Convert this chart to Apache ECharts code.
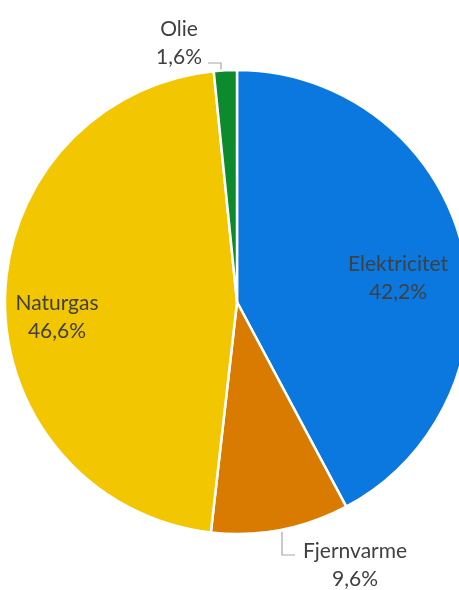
<!DOCTYPE html>
<html>
<head>
<meta charset="utf-8">
<script src="https://cdn.jsdelivr.net/npm/echarts@6/dist/echarts.min.js"></script>
<style>
html,body{margin:0;padding:0;background:#fff;}
#chart{width:459px;height:590px;}
</style>
</head>
<body>
<div id="chart"></div>
<script>
const categories = ['Elektricitet', 'Fjernvarme', 'Naturgas', 'Olie'];
const values = [42.2, 9.6, 46.6, 1.6];
const colors = ['#0B78E0', '#D97B00', '#F2C600', '#0E8A2E'];
const labelSide = ['inside', 'outside', 'inside', 'outside'];

const labelPos = {
  'Elektricitet': { x: 398, y: 278 },
  'Naturgas': { x: 57, y: 317 },
  'Olie': { x: 179, y: 43, line: [[221, 70], [221, 63], [208, 63]] },
  'Fjernvarme': { x: 355, y: 565, line: [[282, 532], [282, 555], [295, 555]] }
};

const chart = echarts.init(document.getElementById('chart'), null, { renderer: 'canvas' });

const data = categories.map((name, i) => ({
  name: name,
  value: values[i],
  itemStyle: { color: colors[i] },
  label: { position: labelSide[i] },
  labelLine: { show: labelSide[i] === 'outside' }
}));

chart.setOption({
  animation: false,
  backgroundColor: '#ffffff',
  series: [{
    type: 'pie',
    center: [237, 302],
    radius: 232,
    startAngle: 90,
    clockwise: true,
    avoidLabelOverlap: false,
    itemStyle: { borderColor: '#ffffff', borderWidth: 2.5 },
    label: {
      show: true,
      fontFamily: 'Lato',
      fontSize: 21,
      lineHeight: 28,
      color: '#404040',
      align: 'center',
      formatter: p => p.name + '\n' + String(p.value).replace('.', ',') + '%'
    },
    labelLine: {
      lineStyle: { color: '#A6A6A6', width: 1.2 },
      length: 10,
      length2: 10
    },
    labelLayout: function (params) {
      const name = categories[params.dataIndex];
      const p = labelPos[name];
      const o = { x: p.x, y: p.y, align: 'center', verticalAlign: 'middle' };
      if (p.line) o.labelLinePoints = p.line;
      return o;
    },
    data: data
  }]
});
</script>
</body>
</html>
